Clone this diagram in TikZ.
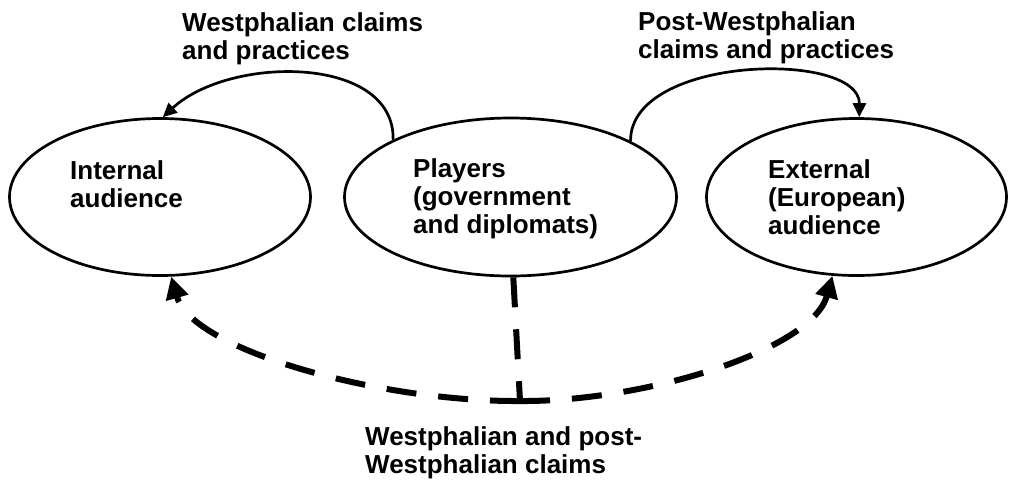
\documentclass[tikz,border=0pt]{standalone}
\usepackage{fontspec}
\setmainfont{Liberation Sans}
\usetikzlibrary{arrows.meta,shapes.geometric}
\begin{document}
\begin{tikzpicture}[x=1pt,y=-1pt,
  oval/.style={ellipse, draw, line width=2.7pt, inner sep=0pt},
  lbl/.style={font=\fontsize{26}{28}\selectfont\bfseries, align=left, anchor=base west, inner sep=0pt},
  solidarrow/.style={line width=2.7pt, -{Triangle[length=14pt,width=13pt]}},
  dasharrow/.style={line width=6pt, dash pattern=on 30pt off 22pt, -{Triangle[length=22pt,width=22pt]}},
  dashline/.style={line width=6pt, dash pattern=on 30pt off 22pt}]
\useasboundingbox[fill=white] (0,0) rectangle (1010,483);
% ellipses
\node[oval, minimum width=301pt, minimum height=157pt] (left) at (160,197) {};
\node[oval, minimum width=332pt, minimum height=158pt] (mid) at (510.5,197) {};
\node[oval, minimum width=300pt, minimum height=157pt] (right) at (856.5,197) {};
% texts (anchor = baseline of last line)
\node[lbl] (tleft) at (70,207) {Internal\\audience};
\node[lbl] (tmid) at (413,233) {Players\\(government\\and diplomats)};
\node[lbl] (tright) at (768,234) {External\\(European)\\audience};
\node[lbl] (wlabel) at (182,59) {Westphalian claims\\and practices};
\node[lbl] (plabel) at (638,58) {Post-Westphalian\\claims and practices};
\node[lbl] (blabel) at (365,473) {Westphalian and post-\\Westphalian claims};
% solid arrows
\draw[solidarrow] (mid.154) .. controls (395,55) and (230,55) .. (left.88);
\draw[solidarrow] (mid.25) .. controls (630,55) and (860,50) .. (right.88);
% dashed
\coordinate (j) at (520,401);
\draw[dashline] (mid.272) -- (j);
\draw[dasharrow] (j) .. controls (380,402) and (192,350) .. (left.278);
\draw[dasharrow] (j) .. controls (645,402) and (812,350) .. (right.253);
\end{tikzpicture}
\end{document}
